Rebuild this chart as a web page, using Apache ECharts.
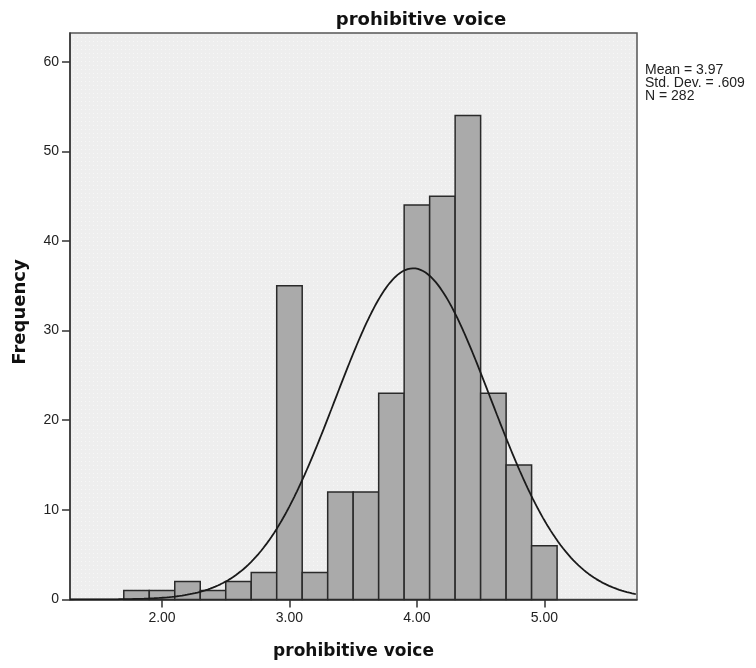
<!DOCTYPE html>
<html>
<head>
<meta charset="utf-8">
<script src="https://cdn.jsdelivr.net/npm/echarts@6/dist/echarts.min.js"></script>
<style>
  html, body { margin: 0; padding: 0; background: #ffffff; }
  #chart { width: 756px; height: 668px; }
</style>
</head>
<body>
<div id="chart"></div>
<script>
// Histogram of "prohibitive voice" with fitted normal curve
const binCenters = [1.8, 2.0, 2.2, 2.4, 2.6, 2.8, 3.0, 3.2, 3.4, 3.6, 3.8, 4.0, 4.2, 4.4, 4.6, 4.8, 5.0];
const frequencies = [1, 1, 2, 1, 2, 3, 35, 3, 12, 12, 23, 44, 45, 54, 23, 15, 6];
const binWidth = 0.2;
const xTickValues = [2, 3, 4, 5];
const yTickValues = [0, 10, 20, 30, 40, 50, 60];
const statMean = 3.97;
const statSd = 0.609;
const statN = 282;

const xMin = 1.278, xMax = 5.727;
const yMax = 63.2;

// Normal curve scaled to the histogram (N * binWidth * pdf)
const curve = [];
for (let x = xMin; x <= xMax + 1e-9; x += 0.01) {
  const z = (x - statMean) / statSd;
  const y = statN * binWidth * Math.exp(-0.5 * z * z) / (statSd * Math.sqrt(2 * Math.PI));
  curve.push([x, y]);
}

// Dotted light-grey texture for the plot area
const tile = document.createElement('canvas');
tile.width = 4; tile.height = 4;
const tctx = tile.getContext('2d');
tctx.fillStyle = '#eeeeee';
tctx.fillRect(0, 0, 4, 4);
tctx.fillStyle = '#f7f7f7';
tctx.fillRect(1, 1, 1, 1);

const chart = echarts.init(document.getElementById('chart'), null, { renderer: 'canvas' });

const labelFont = '"Liberation Sans", Arial, sans-serif';
const boldFont = '"DejaVu Sans", Verdana, sans-serif';

chart.setOption({
  animation: false,
  backgroundColor: '#ffffff',
  grid: {
    left: 70, right: 119, top: 33, bottom: 68.5,
    show: true,
    backgroundColor: { image: tile, repeat: 'repeat' },
    borderColor: '#555555',
    borderWidth: 1.5
  },
  xAxis: {
    type: 'value',
    min: xMin, max: xMax,
    axisLine: { show: true, lineStyle: { color: '#333333', width: 1.5 } },
    axisTick: { show: true, customValues: xTickValues, length: 8, lineStyle: { color: '#333333', width: 1.5 } },
    axisLabel: {
      customValues: xTickValues,
      formatter: v => v.toFixed(2),
      fontFamily: labelFont, fontSize: 14, color: '#222222', margin: 12
    },
    splitLine: { show: false }
  },
  yAxis: {
    type: 'value',
    min: 0, max: yMax,
    axisLine: { show: true, lineStyle: { color: '#333333', width: 1.5 } },
    axisTick: { show: true, customValues: yTickValues, length: 8, lineStyle: { color: '#333333', width: 1.5 } },
    axisLabel: {
      customValues: yTickValues,
      fontFamily: labelFont, fontSize: 14, color: '#222222', margin: 11
    },
    splitLine: { show: false }
  },
  series: [
    {
      type: 'custom',
      data: binCenters.map((c, i) => [c, frequencies[i]]),
      encode: { x: 0, y: 1 },
      renderItem: (params, api) => {
        const c = api.value(0), n = api.value(1);
        const p0 = api.coord([c - binWidth / 2, n]);
        const p1 = api.coord([c + binWidth / 2, 0]);
        return {
          type: 'rect',
          shape: { x: p0[0], y: p0[1], width: p1[0] - p0[0], height: p1[1] - p0[1] },
          style: { fill: '#aaaaaa', stroke: '#2a2a2a', lineWidth: 1.5 }
        };
      },
      z: 2
    },
    {
      type: 'line',
      data: curve,
      showSymbol: false,
      smooth: false,
      lineStyle: { color: '#1a1a1a', width: 1.8 },
      z: 3
    }
  ],
  graphic: [
    {
      type: 'text', left: null, x: 421, y: 20,
      style: { text: 'prohibitive voice', font: 'bold 18px ' + boldFont, fill: '#111111', align: 'center', verticalAlign: 'middle' }
    },
    {
      type: 'text', x: 353.5, y: 652,
      style: { text: 'prohibitive voice', font: 'bold 17px ' + boldFont, fill: '#111111', align: 'center', verticalAlign: 'middle' }
    },
    {
      type: 'text', x: 20, y: 312, rotation: Math.PI / 2,
      style: { text: 'Frequency', font: 'bold 18px ' + boldFont, fill: '#111111', align: 'center', verticalAlign: 'middle' }
    },
    {
      type: 'text', x: 645, y: 63,
      style: {
        text: 'Mean = ' + statMean.toFixed(2) + '\nStd. Dev. = ' + statSd.toFixed(3).replace(/^0/, '') + '\nN = ' + statN,
        font: '14px ' + labelFont, lineHeight: 13.4, fill: '#222222', align: 'left', verticalAlign: 'top'
      }
    }
  ]
});
</script>
</body>
</html>
